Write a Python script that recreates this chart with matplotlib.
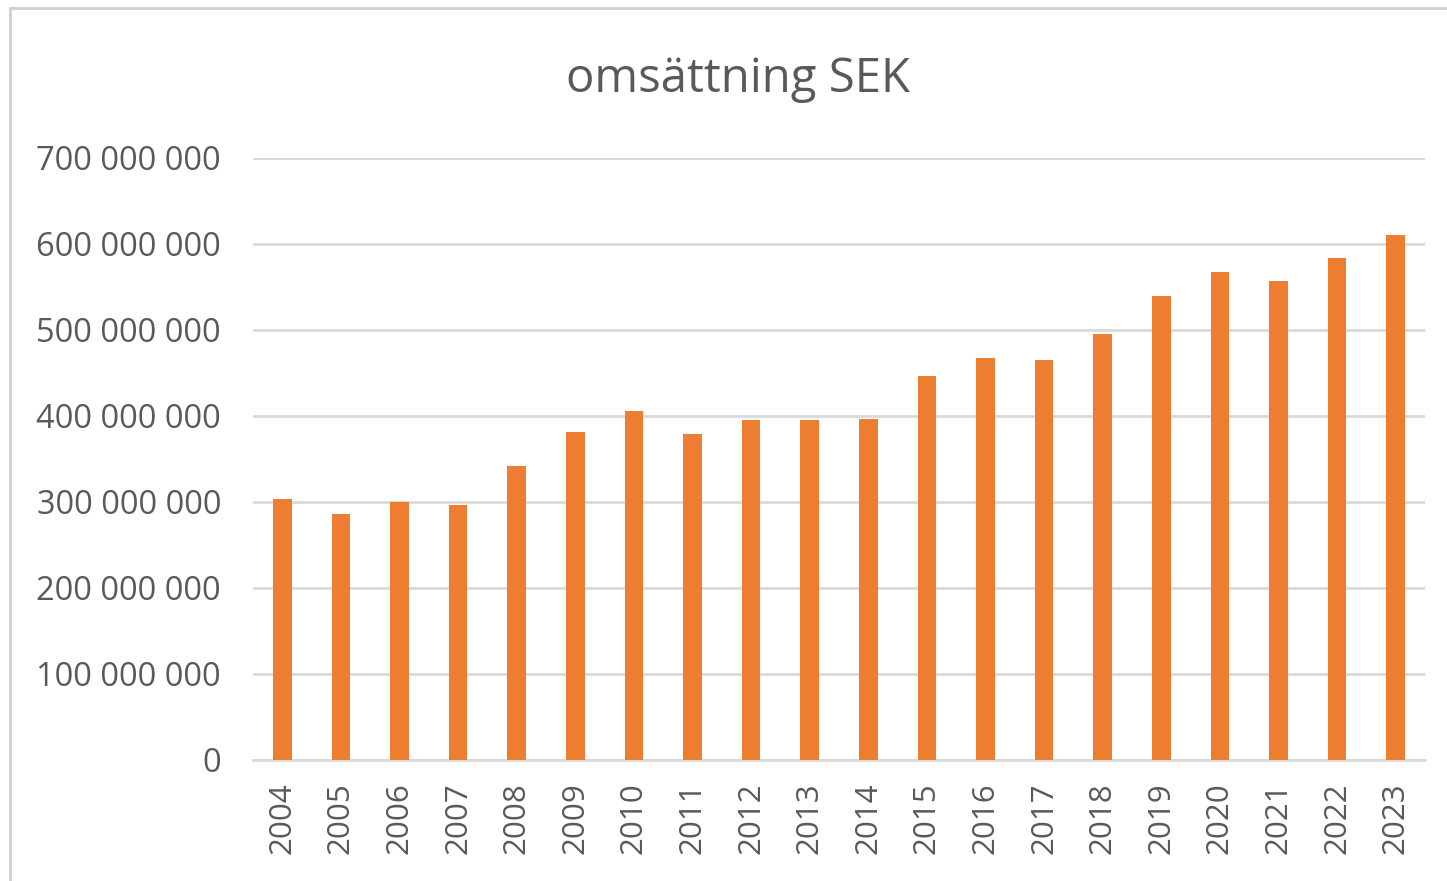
import matplotlib.pyplot as plt
from matplotlib.patches import Rectangle
from matplotlib.ticker import FuncFormatter, MultipleLocator

years = [str(y) for y in range(2004, 2024)]
revenue = [304e6, 286e6, 300e6, 297e6, 342e6, 381e6, 406e6, 379e6, 395e6, 395e6,
           397e6, 447e6, 467e6, 465e6, 495e6, 540e6, 568e6, 557e6, 584e6, 610e6]

plt.rcParams['font.family'] = ['Open Sans', 'DejaVu Sans']
grey = '#595959'

fig = plt.figure(figsize=(14.47, 8.81), dpi=100)
ax = fig.add_axes([253 / 1447, 1 - 760 / 881, (1425 - 253) / 1447, (760 - 158) / 881])

x = range(len(years))
ax.bar(x, revenue, width=0.32, color='#ED7D31', zorder=3)

ax.set_xlim(-0.5, len(years) - 0.5)
ax.set_ylim(0, 700e6)
ax.yaxis.set_major_locator(MultipleLocator(100e6))
ax.yaxis.set_major_formatter(FuncFormatter(lambda v, p: f'{int(v):,}'.replace(',', ' ')))
ax.set_xticks(list(x))
ax.set_xticklabels(years, rotation=90)

ax.grid(axis='y', color='#D9D9D9', linewidth=2, zorder=0)
for s in ['top', 'right', 'left']:
    ax.spines[s].set_visible(False)
ax.spines['bottom'].set_color('#D9D9D9')
ax.spines['bottom'].set_linewidth(2)
ax.tick_params(axis='both', length=0, colors=grey)
ax.tick_params(axis='y', pad=23, labelsize=23.5)
ax.tick_params(axis='x', pad=16, labelsize=22.5)

fig.text(738 / 1447, 1 - 79 / 881, 'omsättning SEK', ha='center', va='center',
         fontsize=34, color=grey)

# chart frame (cut off on right and bottom)
fig.patches.append(Rectangle((10 / 1447, -0.1), 1.2, 1.1 - 8 / 881,
                             transform=fig.transFigure, fill=False,
                             edgecolor='#D0D0D0', linewidth=2))

fig.savefig('out.png', dpi=100)
